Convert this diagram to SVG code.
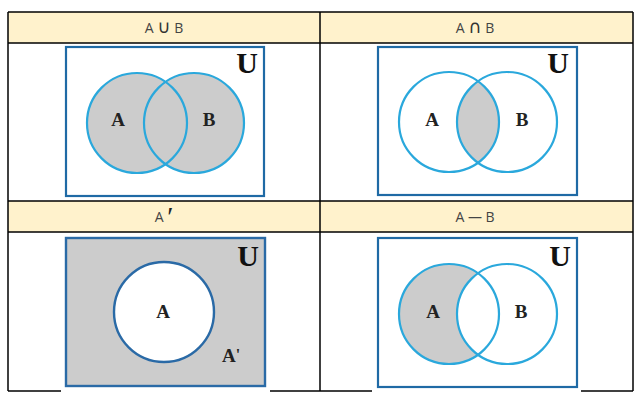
<svg xmlns="http://www.w3.org/2000/svg" width="643" height="403" viewBox="0 0 643 403">
  <defs>
    <style>
      .hdr { fill: #fff2cc; }
      .grid { stroke: #000; stroke-width: 1.5; fill: none; }
      .htxt { font-family: "Open Sans", "Liberation Sans", sans-serif; font-size: 14px; fill: #444; text-anchor: middle; }
      .op { font-family: "DejaVu Sans", sans-serif; font-size: 18px; fill: #333; }
      .box { fill: #fff; stroke: #1f6aa5; stroke-width: 2.2; }
      .ring { fill: none; stroke: #2aa8dc; stroke-width: 2.2; }
      .lbl { font-family: "Liberation Serif", serif; font-weight: bold; font-size: 19px; fill: #222; text-anchor: middle; }
      .u { font-family: "Liberation Serif", serif; font-weight: bold; font-size: 30px; fill: #111; text-anchor: middle; }
    </style>
    <clipPath id="clipA2"><circle cx="449" cy="122" r="50"/></clipPath>
  </defs>

  <!-- table -->
  <g id="table">
    <rect class="hdr" x="8" y="12" width="625" height="31"/>
    <rect class="hdr" x="8" y="201" width="625" height="31"/>
    <line class="grid" x1="8" y1="12" x2="633" y2="12"/>
    <line class="grid" x1="8" y1="43" x2="633" y2="43"/>
    <line class="grid" x1="8" y1="201" x2="633" y2="201"/>
    <line class="grid" x1="8" y1="232" x2="633" y2="232"/>
    <line class="grid" x1="8" y1="12" x2="8" y2="391"/>
    <line class="grid" x1="320" y1="12" x2="320" y2="391"/>
    <line class="grid" x1="633" y1="12" x2="633" y2="391"/>
    <line class="grid" x1="8" y1="391" x2="61" y2="391"/>
    <line class="grid" x1="270" y1="391" x2="372" y2="391"/>
    <line class="grid" x1="581" y1="391" x2="633" y2="391"/>
  </g>

  <!-- headers -->
  <g id="h-union"><text class="htxt" x="164" y="33">A <tspan class="op">∪</tspan> B</text></g>
  <g id="h-inter"><text class="htxt" x="475" y="33">A <tspan class="op">∩</tspan> B</text></g>
  <g id="h-comp"><text class="htxt" x="164" y="222">A <tspan font-family="Liberation Serif, serif" font-size="28" fill="#222" dy="4">′</tspan></text></g>
  <g id="h-diff"><text class="htxt" x="475" y="222">A — B</text></g>

  <!-- union -->
  <g id="p-union">
    <rect class="box" x="66" y="47" width="198" height="149"/>
    <circle cx="137" cy="123" r="50" fill="#cccccc"/>
    <circle cx="194" cy="123" r="50" fill="#cccccc"/>
    <circle class="ring" cx="137" cy="123" r="50"/>
    <circle class="ring" cx="194" cy="123" r="50"/>
    <text class="lbl" x="118" y="126">A</text>
    <text class="lbl" x="209" y="126">B</text>
    <text class="u" x="247" y="73">U</text>
  </g>

  <!-- intersection -->
  <g id="p-inter">
    <rect class="box" x="378" y="47" width="199" height="148"/>
    <circle cx="507" cy="122" r="50" fill="#cccccc" clip-path="url(#clipA2)"/>
    <circle class="ring" cx="449" cy="122" r="50"/>
    <circle class="ring" cx="507" cy="122" r="50"/>
    <text class="lbl" x="432" y="126">A</text>
    <text class="lbl" x="522" y="126">B</text>
    <text class="u" x="558" y="73">U</text>
  </g>

  <!-- complement -->
  <g id="p-comp">
    <rect x="61" y="234" width="209" height="160" fill="#fff"/>
    <rect x="66" y="238" width="199" height="148" fill="#cccccc" stroke="#2a6aa6" stroke-width="2.4"/>
    <circle cx="164" cy="312" r="50" fill="#fff" stroke="#2a6aa6" stroke-width="2.4"/>
    <text class="lbl" x="163" y="318">A</text>
    <text class="lbl" x="231" y="362">A<tspan font-size="16" dy="-2">'</tspan></text>
    <text class="u" x="248" y="266">U</text>
  </g>

  <!-- difference -->
  <g id="p-diff">
    <rect x="372" y="234" width="209" height="160" fill="#fff"/>
    <rect class="box" x="378" y="238" width="199" height="149"/>
    <circle cx="449" cy="314" r="50" fill="#cccccc"/>
    <circle cx="507" cy="314" r="50" fill="#fff"/>
    <circle class="ring" cx="449" cy="314" r="50"/>
    <circle class="ring" cx="507" cy="314" r="50"/>
    <text class="lbl" x="433" y="318">A</text>
    <text class="lbl" x="521" y="318">B</text>
    <text class="u" x="560" y="266">U</text>
  </g>
</svg>
